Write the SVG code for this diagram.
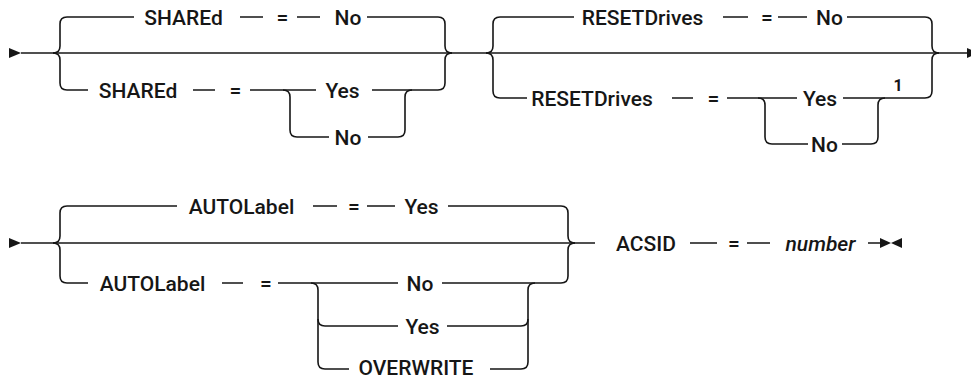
<svg xmlns="http://www.w3.org/2000/svg" width="971" height="378" viewBox="0 0 971 378">
<style>
.ln{fill:none;stroke:#161616;stroke-width:1.6}
.ar{fill:#161616;stroke:none}
.t{font-family:Roboto,"Liberation Sans",Arial,sans-serif;font-size:21px;font-weight:500;fill:#161616;text-anchor:middle}
.it{font-style:italic}
.fn{font-size:16px;font-weight:bold}
</style>
<rect width="971" height="378" fill="#ffffff"/>
<g id="connectors">
<!-- row 1 -->
<polygon class="ar" points="9,48 21,53 9,58"/>
<path class="ln" d="M21,53 H967"/>
<polygon class="ar" points="967,48 979,53 967,58"/>
<path class="ln" d="M53,53 Q60,53 60,46 V24 Q60,17 67,17 H134"/>
<path class="ln" d="M53,53 Q60,53 60,60 V83 Q60,90 67,90 H88"/>
<path class="ln" d="M240,17 H263 M297,17 H320"/>
<path class="ln" d="M367,17 H438 Q445,17 445,24 V46 Q445,53 452,53"/>
<path class="ln" d="M193,90 H215 M250,90 H316"/>
<path class="ln" d="M372,90 H438 Q445,90 445,83 V60 Q445,53 452,53"/>
<path class="ln" d="M283,90 Q290,90 290,97 V130 Q290,137 297,137 H329"/>
<path class="ln" d="M368,137 H398 Q405,137 405,130 V97 Q405,90 412,90"/>
<path class="ln" d="M486,53 Q493,53 493,46 V24 Q493,17 500,17 H574"/>
<path class="ln" d="M486,53 Q493,53 493,60 V91 Q493,98 500,98 H527"/>
<path class="ln" d="M723,17 H748 M778,17 H807"/>
<path class="ln" d="M847,17 H925 Q932,17 932,24 V46 Q932,53 939,53"/>
<path class="ln" d="M672,98 H693 M727,98 H797"/>
<path class="ln" d="M843,98 H925 Q932,98 932,91 V60 Q932,53 939,53"/>
<path class="ln" d="M758,98 Q765,98 765,105 V137 Q765,144 772,144 H808"/>
<path class="ln" d="M842,144 H871 Q878,144 878,137 V105 Q878,98 885,98"/>
<!-- row 2 -->
<polygon class="ar" points="9,238 21,243 9,248"/>
<path class="ln" d="M21,243 H595"/>
<path class="ln" d="M53,243 Q60,243 60,236 V213 Q60,206 67,206 H177"/>
<path class="ln" d="M53,243 Q60,243 60,250 V276 Q60,283 67,283 H88"/>
<path class="ln" d="M313,206 H337 M367,206 H395"/>
<path class="ln" d="M448,206 H561 Q568,206 568,213 V236 Q568,243 575,243"/>
<path class="ln" d="M222,283 H243 M278,283 H398"/>
<path class="ln" d="M442,283 H561 Q568,283 568,276 V250 Q568,243 575,243"/>
<path class="ln" d="M311,283 Q318,283 318,290 V362 Q318,369 325,369 H349"/>
<path class="ln" d="M318,319 Q318,326 325,326 H398"/>
<path class="ln" d="M447,326 H521 Q528,326 528,319"/>
<path class="ln" d="M490,369 H521 Q528,369 528,362 V290 Q528,283 535,283"/>
<path class="ln" d="M690,243 H717 M747,243 H770 M868,243 H882"/>
<polygon class="ar" points="880,238 891,243 880,248"/>
<polygon class="ar" points="902,238 891,243 902,248"/>
</g>
<g id="n-shared-top"><text class="t" x="183.5" y="24.5">SHAREd</text><text class="t" x="282.5" y="24.5">=</text><text class="t" x="348" y="24.5">No</text></g>
<g id="n-shared-low"><text class="t" x="138" y="97.5">SHAREd</text><text class="t" x="235.5" y="97.5">=</text><text class="t" x="342.5" y="97.5">Yes</text></g>
<g id="n-shared-no"><text class="t" x="348" y="144.5">No</text></g>
<g id="n-reset-top"><text class="t" x="642.5" y="24.5">RESETDrives</text><text class="t" x="767" y="24.5">=</text><text class="t" x="829.5" y="24.5">No</text></g>
<g id="n-reset-low"><text class="t" x="592" y="105.5">RESETDrives</text><text class="t" x="713.5" y="105.5">=</text><text class="t" x="820" y="105.5">Yes</text><text class="t fn" x="898" y="91">1</text></g>
<g id="n-reset-no"><text class="t" x="824.5" y="151.5">No</text></g>
<g id="n-auto-top"><text class="t" x="421.5" y="213.5">Yes</text><text class="t" x="241.5" y="213.5">AUTOLabel</text><text class="t" x="354" y="213.5">=</text></g>
<g id="n-auto-low"><text class="t" x="152.5" y="290.5">AUTOLabel</text><text class="t" x="266" y="290.5">=</text><text class="t" x="420" y="290.5">No</text></g>
<g id="n-auto-yes"><text class="t" x="422.5" y="333.5">Yes</text></g>
<g id="n-auto-ow"><text class="t" x="416" y="375">OVERWRITE</text></g>
<g id="n-acsid"><text class="t" x="646" y="250.5">ACSID</text><text class="t" x="734" y="250.5">=</text><text class="t it" x="820.5" y="250.5">number</text></g>
</svg>
